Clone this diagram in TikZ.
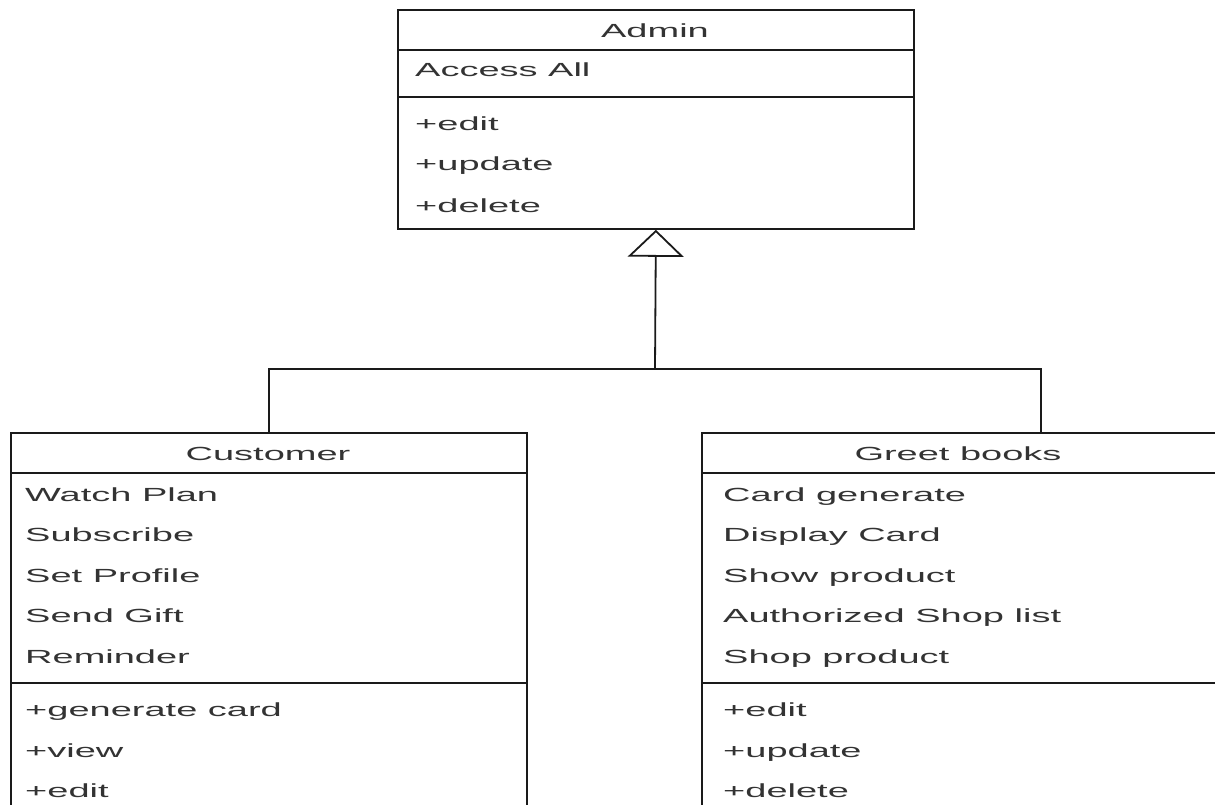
\documentclass[tikz,border=0pt]{standalone}
\usepackage{fontspec}
\setmainfont[FakeStretch=2.0]{Liberation Sans}
\usetikzlibrary{arrows.meta,calc}
\definecolor{linecol}{HTML}{1A1A1A}
\definecolor{textcol}{HTML}{333333}
\begin{document}
\begin{tikzpicture}[x=1pt,y=-1pt,
  classbox/.style={draw=linecol, line width=1.8pt, rectangle, inner sep=0pt, anchor=north west},
  sepline/.style={draw=linecol, line width=1.8pt},
  classtitle/.style={text=textcol, font=\fontsize{19}{23}\selectfont, anchor=base, inner sep=0pt},
  member/.style={text=textcol, font=\fontsize{19}{23}\selectfont, anchor=base west, inner sep=0pt},
  link/.style={draw=linecol, line width=1.8pt},
  inherit/.style={link, -{Triangle[open, length=27pt, width=56pt]}}]
\useasboundingbox (0,0) rectangle (1215,805);

% ---- Admin class ----
\node[classbox, minimum width=516pt, minimum height=219pt] (admin) at (397,9) {};
\draw[sepline] ($(admin.north west)+(0,41)$) -- ($(admin.north east)+(0,41)$);
\draw[sepline] ($(admin.north west)+(0,88)$) -- ($(admin.north east)+(0,88)$);
\node[classtitle] (adminT) at (655,38) {Admin};
\node[member] (adminA1) at (415,77) {Access All};
\node[member] (adminM1) at (415,131) {+edit};
\node[member] (adminM2) at (415,171) {+update};
\node[member] (adminM3) at (415,212) {+delete};

% ---- Customer class ----
\node[classbox, minimum width=516pt, minimum height=383pt] (cust) at (10,432) {};
\draw[sepline] ($(cust.north west)+(0,41)$) -- ($(cust.north east)+(0,41)$);
\draw[sepline] ($(cust.north west)+(0,251)$) -- ($(cust.north east)+(0,251)$);
\node[classtitle] (custT) at (268,460) {Customer};
\node[member] (custA1) at (25,501) {Watch Plan};
\node[member] (custA2) at (25,541) {Subscribe};
\node[member] (custA3) at (25,582) {Set Profile};
\node[member] (custA4) at (25,622) {Send Gift};
\node[member] (custA5) at (25,663) {Reminder};
\node[member] (custM1) at (25,716) {+generate card};
\node[member] (custM2) at (25,757) {+view};
\node[member] (custM3) at (25,797) {+edit};

% ---- Greet books class ----
\node[classbox, minimum width=514.5pt, minimum height=383pt] (greet) at (701,432) {};
\draw[sepline] ($(greet.north west)+(0,41)$) -- ($(greet.north east)+(0,41)$);
\draw[sepline] ($(greet.north west)+(0,251)$) -- ($(greet.north east)+(0,251)$);
\node[classtitle] (greetT) at (958,460) {Greet books};
\node[member] (greetA1) at (723,501) {Card generate};
\node[member] (greetA2) at (723,541) {Display Card};
\node[member] (greetA3) at (723,582) {Show product};
\node[member] (greetA4) at (723,622) {Authorized Shop list};
\node[member] (greetA5) at (723,663) {Shop product};
\node[member] (greetM1) at (723,716) {+edit};
\node[member] (greetM2) at (723,757) {+update};
\node[member] (greetM3) at (723,797) {+delete};

% ---- generalisation ----
\coordinate (joint) at (655,369);
\coordinate (greetdrop) at ($(greet.north west)+(340,0)$);
\draw[link] (cust.north) |- (joint) -| (greetdrop);
\draw[inherit] (joint) -- (admin.south);
\end{tikzpicture}
\end{document}
